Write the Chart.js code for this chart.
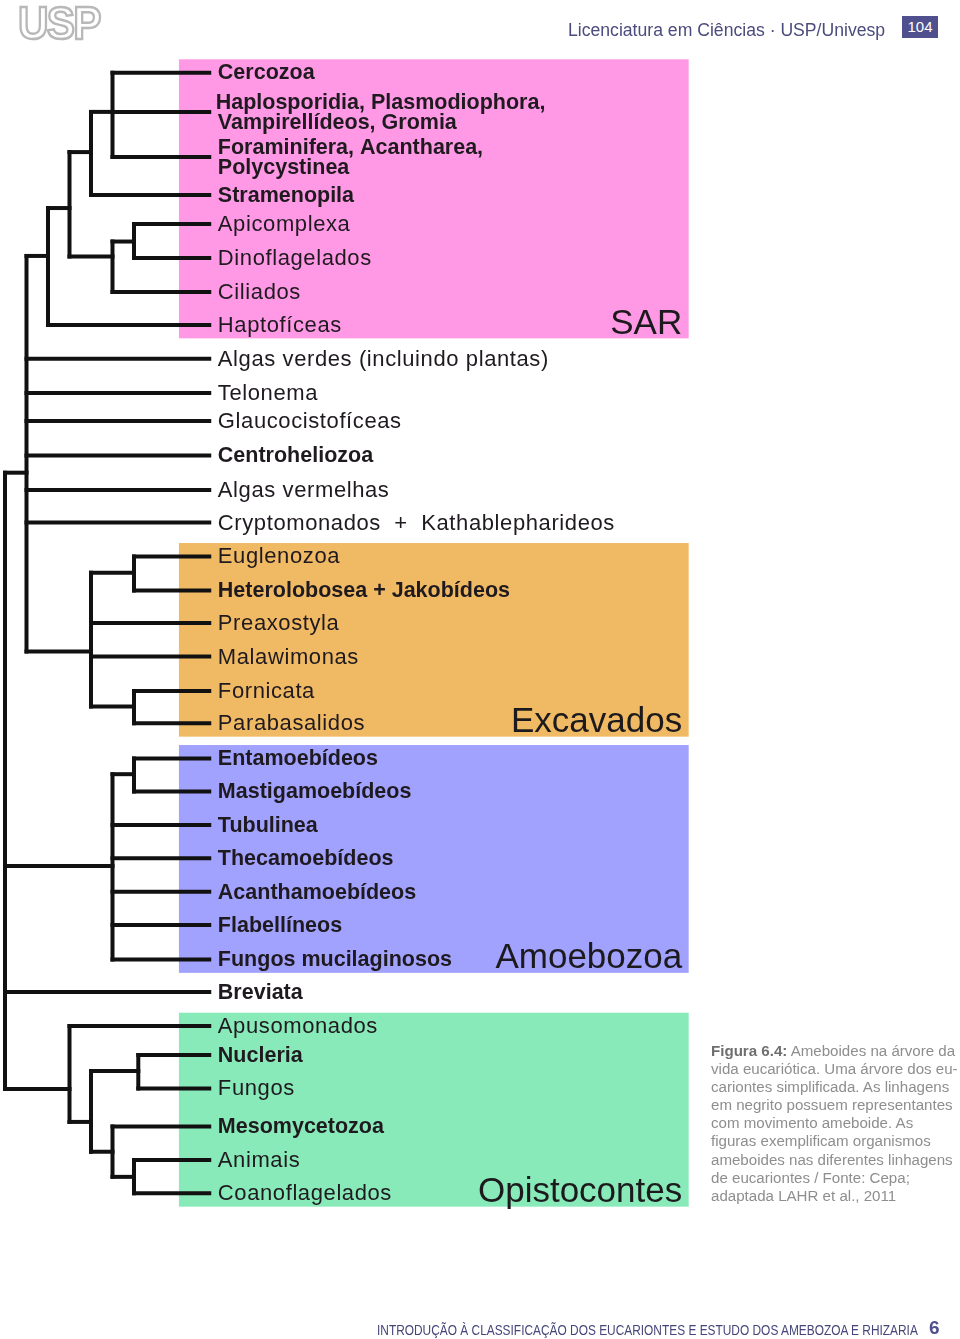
<!DOCTYPE html>
<html>
<head>
<meta charset="utf-8">
<script src="https://cdn.jsdelivr.net/npm/chart.js@4/dist/chart.umd.min.js"></script>
<style>
  body { margin: 0; background: #fff; }
  #page { position: relative; width: 960px; height: 1339px; overflow: hidden; font-family: 'Liberation Sans', Arial, sans-serif; }
  #tree { position: absolute; left: 0; top: 0; }
  .abs { position: absolute; white-space: nowrap; line-height: 1; }
  #logo { left: 18px; top: -1px; font-weight: bold; font-size: 47px; color: #fff; -webkit-text-stroke: 2.5px #b8b8b8; letter-spacing: -2px; transform-origin: left top; transform: scaleX(0.9); }
  #header { left: 568px; top: 22px; font-size: 17.5px; color: #4b4b7d; transform-origin: left top; }
  #pagebox { left: 902px; top: 16px; width: 36px; height: 22px; background: #50508f; color: #fff; font-size: 15px; text-align: center; line-height: 22px; }
  #footer { left: 377px; top: 1322px; font-size: 15px; color: #45457a; transform-origin: left top; }
  #chapter { left: 929px; top: 1318px; font-size: 19px; font-weight: bold; color: #50508f; }
  #caption { left: 711px; top: 1042px; font-size: 15.1px; line-height: 18.1px; color: #8e8e8e; }
  #caption b { color: #6f6f6f; }
</style>
</head>
<body>
<div id="page">
  <canvas id="tree" width="960" height="1339"></canvas>
  <div class="abs" id="logo">USP</div>
  <div class="abs" id="header">Licenciatura em Ciências · USP/Univesp</div>
  <div class="abs" id="pagebox">104</div>
  <div class="abs" id="caption"><b>Figura 6.4:</b> Ameboides na árvore da<br>vida eucariótica. Uma árvore dos eu-<br>cariontes simplificada. As linhagens<br>em negrito possuem representantes<br>com movimento ameboide. As<br>figuras exemplificam organismos<br>ameboides nas diferentes linhagens<br>de eucariontes / Fonte: Cepa;<br>adaptada LAHR et al., 2011</div>
  <div class="abs" id="footer">INTRODUÇÃO À CLASSIFICAÇÃO DOS EUCARIONTES E ESTUDO DOS AMEBOZOA E RHIZARIA</div>
  <div class="abs" id="chapter">6</div>
</div>
<script>
// leaves, top to bottom
const leafNames = [
    'Cercozoa',
    'Haplosporidia, Plasmodiophora,\nVampirellídeos, Gromia',
    'Foraminifera, Acantharea,\nPolycystinea',
    'Stramenopila',
    'Apicomplexa',
    'Dinoflagelados',
    'Ciliados',
    'Haptofíceas',
    'Algas verdes (incluindo plantas)',
    'Telonema',
    'Glaucocistofíceas',
    'Centroheliozoa',
    'Algas vermelhas',
    'Cryptomonados  +  Kathablepharideos',
    'Euglenozoa',
    'Heterolobosea + Jakobídeos',
    'Preaxostyla',
    'Malawimonas',
    'Fornicata',
    'Parabasalidos',
    'Entamoebídeos',
    'Mastigamoebídeos',
    'Tubulinea',
    'Thecamoebídeos',
    'Acanthamoebídeos',
    'Flabellíneos',
    'Fungos mucilaginosos',
    'Breviata',
    'Apusomonados',
    'Nucleria',
    'Fungos',
    'Mesomycetozoa',
    'Animais',
    'Coanoflagelados'
];
const leafBold = [1, 1, 1, 1, 0, 0, 0, 0, 0, 0, 0, 1, 0, 0, 0, 1, 0, 0, 0, 0, 1, 1, 1, 1, 1, 1, 1, 1, 0, 1, 0, 1, 0, 0];
// row of each leaf (rows are not perfectly even)
const leafRow = [0, 1.17, 2.52, 3.65, 4.52, 5.53, 6.55, 7.53, 8.54, 9.56, 10.40, 11.43, 12.46, 13.43,
    14.44, 15.46, 16.43, 17.43, 18.46, 19.42, 20.47, 21.46, 22.46, 23.45, 24.45, 25.44, 26.47,
    27.44, 28.46, 29.32, 30.32, 31.46, 32.46, 33.45];
const leafParent = [5, 5, 5, 4, 7, 7, 6, 2, 1, 1, 1, 1, 1, 1, 9, 9, 8, 8, 10, 10, 12, 12, 11, 11, 11, 11, 11, 0, 13, 15, 15, 16, 17, 17];

// internal nodes: depth level, parent node, row where the stem joins the parent
const nodeLevel = [0, 1, 2, 3, 4, 5, 5, 6, 4, 6, 6, 5, 6, 3, 4, 6.2, 5, 6];
const nodeParent = [-1, 0, 1, 2, 3, 4, 3, 6, 1, 8, 8, 0, 11, 0, 13, 14, 14, 16];
const nodeRow = [null, 11.94, 5.47, 4.04, 2.37, 1.17, 5.49, 5.04, 17.28, 14.93, 18.92, 23.68, 20.94, 30.34, 31.32, 29.80, 32.21, 32.96];
const tipLevel = 9.5;

// coloured groups
const groupNames = ['SAR', 'Excavados', 'Amoebozoa', 'Opistocontes'];
const groupFirstLeaf = [0, 14, 20, 28];
const groupLastLeaf = [7, 19, 26, 33];
const groupColors = ['#ff99e5', '#f0b964', '#a1a1fe', '#88e9b9'];

// build the branch segments
const segments = [];
leafRow.forEach((row, i) => {
    segments.push([{ x: nodeLevel[leafParent[i]], y: row }, { x: tipLevel, y: row }]);
});
nodeLevel.forEach((level, n) => {
    if (nodeParent[n] >= 0) {
        segments.push([{ x: nodeLevel[nodeParent[n]], y: nodeRow[n] }, { x: level, y: nodeRow[n] }]);
    }
    const childRows = [];
    leafParent.forEach((p, i) => { if (p === n) childRows.push(leafRow[i]); });
    nodeParent.forEach((p, m) => { if (p === n) childRows.push(nodeRow[m]); });
    segments.push([{ x: level, y: Math.min(...childRows) }, { x: level, y: Math.max(...childRows) }]);
});

const groupBoxes = {
    id: 'groupBoxes',
    beforeDatasetsDraw(chart) {
        const { ctx, scales: { x, y } } = chart;
        ctx.save();
        groupNames.forEach((name, g) => {
            const left = x.getPixelForValue(8.09);
            const right = x.getPixelForValue(31.8);
            const top = y.getPixelForValue(leafRow[groupFirstLeaf[g]] - 0.4);
            const bottom = y.getPixelForValue(leafRow[groupLastLeaf[g]] + 0.4);
            ctx.fillStyle = groupColors[g];
            ctx.fillRect(left, top, right - left, bottom - top);
            ctx.fillStyle = '#1c1a1c';
            ctx.font = '35px "Liberation Sans", Arial, sans-serif';
            ctx.textAlign = 'right';
            ctx.textBaseline = 'alphabetic';
            ctx.fillText(name, x.getPixelForValue(31.5), bottom - 4.5);
        });
        ctx.restore();
    }
};

const leafLabels = {
    id: 'leafLabels',
    afterDatasetsDraw(chart) {
        const { ctx, scales: { x, y } } = chart;
        ctx.save();
        ctx.fillStyle = '#1f1a1f';
        ctx.textAlign = 'left';
        ctx.textBaseline = 'alphabetic';
        leafNames.forEach((name, i) => {
            const bold = leafBold[i] === 1;
            const size = bold ? 21.5 : 22;
            ctx.font = (bold ? 'bold ' : '') + size + 'px "Liberation Sans", Arial, sans-serif';
            ctx.letterSpacing = bold ? '0px' : '0.6px';
            const lines = name.split('\n');
            const base = y.getPixelForValue(leafRow[i]) + size * 0.36 - 1;
            lines.forEach((line, k) => {
                const lx = x.getPixelForValue(lines.length > 1 && k === 0 && i === 1 ? 9.8 : 9.9);
                ctx.fillText(line, lx, base + (k - (lines.length - 1) / 2) * 20);
            });
        });
        ctx.restore();
    }
};

const ctx = document.getElementById('tree').getContext('2d');
new Chart(ctx, {
    type: 'scatter',
    data: {
        datasets: segments.map((seg) => ({
            data: seg,
            showLine: true,
            borderColor: '#111111',
            borderWidth: 4,
            borderCapStyle: 'square',
            pointRadius: 0,
            fill: false
        }))
    },
    options: {
        responsive: false,
        animation: false,
        events: [],
        layout: { padding: 0 },
        plugins: { legend: { display: false }, tooltip: { enabled: false } },
        scales: {
            x: { type: 'linear', min: -0.2326, max: 44.42, display: false },
            y: { type: 'linear', min: -2.17, max: 37.8, reverse: true, display: false }
        }
    },
    plugins: [groupBoxes, leafLabels]
});

// fit condensed header and footer lines to their widths
function fitWidth(id, target) {
    const el = document.getElementById(id);
    el.style.transform = `scaleX(${target / el.offsetWidth})`;
}
fitWidth('header', 317);
fitWidth('footer', 541);
</script>
</body>
</html>
